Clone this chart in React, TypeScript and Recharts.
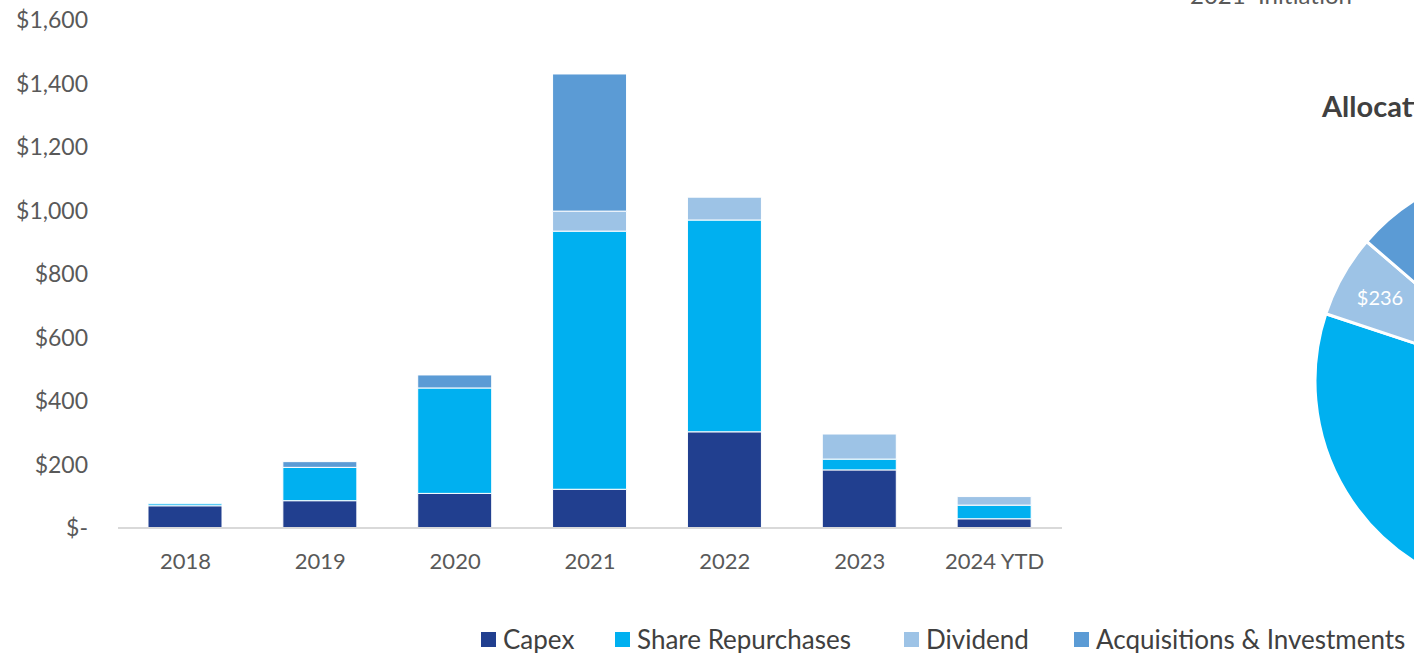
import React from 'react';
import { BarChart, Bar, XAxis, YAxis, PieChart, Pie, Cell } from 'recharts';

const years = ['2018', '2019', '2020', '2021', '2022', '2023', '2024 YTD'];
const capex = [70, 86, 109, 122, 303, 183, 29];
const repurchases = [6, 105, 332, 813, 667, 34, 43];
const dividend = [0, 0, 0, 63, 72, 79, 27];
const acquisitions = [0, 18, 41, 432, 0, 0, 0];
const yTicks = [0, 200, 400, 600, 800, 1000, 1200, 1400, 1600];

const pieNames = ['Capex', 'Share Repurchases', 'Dividend', 'Acquisitions & Investments'];
const pieValues = [950, 2090, 236, 520];

const COLORS = {
  capex: '#213f8f',
  repurchases: '#00b0f0',
  dividend: '#9dc3e6',
  acquisitions: '#5b9bd5',
};
const pieColors = [COLORS.capex, COLORS.repurchases, COLORS.dividend, COLORS.acquisitions];

const FONT = 'Lato, "Open Sans", sans-serif';
const GREY = '#595959';
const RADIAN = Math.PI / 180;

const barData = years.map((y, i) => ({
  year: y,
  capex: capex[i],
  repurchases: repurchases[i],
  dividend: dividend[i],
  acquisitions: acquisitions[i],
}));

const pieData = pieNames.map((n, i) => ({ name: n, value: pieValues[i] }));

const fmtDollar = (v: number) => (v === 0 ? '$-' : '$' + v.toLocaleString('en-US'));

const legendItems = [
  { label: 'Capex', color: COLORS.capex, x: 481 },
  { label: 'Share Repurchases', color: COLORS.repurchases, x: 615 },
  { label: 'Dividend', color: COLORS.dividend, x: 904 },
  { label: 'Acquisitions & Investments', color: COLORS.acquisitions, x: 1074 },
];

const renderPieLabel = (props: any) => {
  const { cx, cy, midAngle, outerRadius, value } = props;
  const r = outerRadius * 0.8;
  const x = cx + r * Math.cos(-midAngle * RADIAN);
  const y = cy + r * Math.sin(-midAngle * RADIAN);
  return (
    <text x={x} y={y} fill="#fff" fontSize={20} fontFamily={FONT} textAnchor="middle" dominantBaseline="central">
      {'$' + value.toLocaleString('en-US')}
    </text>
  );
};

export default function App() {
  return (
    <div
      style={{
        position: 'absolute',
        left: 0,
        top: 0,
        width: 1414,
        height: 653,
        overflow: 'hidden',
        background: '#fff',
        fontFamily: FONT,
      }}
    >
      {/* stacked bars */}
      <div style={{ position: 'absolute', left: 0, top: 0 }}>
        <BarChart
          width={1100}
          height={600}
          data={barData}
          margin={{ top: 20, right: 38, bottom: 32, left: 0 }}
        >
          <XAxis
            dataKey="year"
            axisLine={{ stroke: '#d9d9d9', strokeWidth: 2 }}
            tickLine={false}
            tickSize={0}
            tickMargin={25}
            height={40}
            tick={{ fill: GREY, fontSize: 22, fontFamily: FONT }}
          />
          <YAxis
            width={118}
            domain={[0, 1600]}
            ticks={yTicks}
            axisLine={false}
            tickLine={false}
            tickSize={0}
            tickMargin={30}
            tickFormatter={fmtDollar}
            tick={{ fill: GREY, fontSize: 23, fontFamily: FONT }}
          />
          <Bar dataKey="capex" stackId="a" fill={COLORS.capex} stroke="#fff" strokeWidth={1} barSize={74} isAnimationActive={false} />
          <Bar dataKey="repurchases" stackId="a" fill={COLORS.repurchases} stroke="#fff" strokeWidth={1} barSize={74} isAnimationActive={false} />
          <Bar dataKey="dividend" stackId="a" fill={COLORS.dividend} stroke="#fff" strokeWidth={1} barSize={74} isAnimationActive={false} />
          <Bar dataKey="acquisitions" stackId="a" fill={COLORS.acquisitions} stroke="#fff" strokeWidth={1} barSize={74} isAnimationActive={false} />
        </BarChart>
      </div>

      {/* allocation pie, mostly off to the right */}
      <div
        style={{
          position: 'absolute',
          left: 1190,
          top: -18,
          fontSize: 24,
          lineHeight: '26px',
          color: GREY,
          whiteSpace: 'pre',
        }}
      >
        {'2021  Initiation'}
      </div>
      <div
        style={{
          position: 'absolute',
          left: 1322,
          top: 88,
          fontSize: 29,
          fontWeight: 700,
          color: '#404040',
          whiteSpace: 'nowrap',
        }}
      >
        Allocation
      </div>
      <div style={{ position: 'absolute', left: 1294, top: 146 }}>
        <PieChart width={460} height={460}>
          <Pie
            data={pieData}
            dataKey="value"
            nameKey="name"
            cx={230}
            cy={230}
            outerRadius={214}
            startAngle={90}
            endAngle={-270}
            stroke="#fff"
            strokeWidth={3}
            labelLine={false}
            label={renderPieLabel}
            isAnimationActive={false}
          >
            {pieData.map((d, i) => (
              <Cell key={d.name} fill={pieColors[i]} />
            ))}
          </Pie>
        </PieChart>
      </div>

      {/* legend */}
      {legendItems.map((it) => (
        <div
          key={it.label}
          style={{
            position: 'absolute',
            left: it.x,
            top: 622,
            display: 'flex',
            alignItems: 'center',
            fontSize: 26,
            lineHeight: '34px',
            color: '#404040',
            whiteSpace: 'nowrap',
          }}
        >
          <span style={{ width: 15, height: 15, background: it.color, marginRight: 7, display: 'inline-block' }} />
          <span>{it.label}</span>
        </div>
      ))}
    </div>
  );
}
